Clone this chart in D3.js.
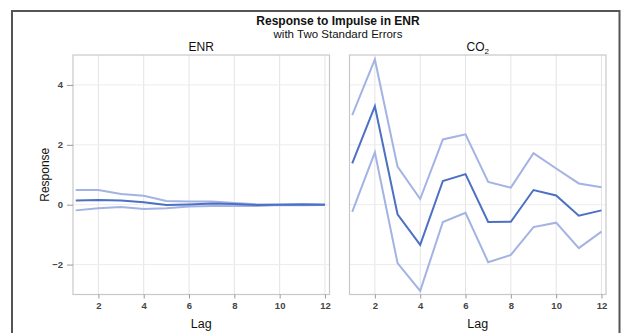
<!DOCTYPE html>
<html>
<head>
<meta charset="utf-8">
<script src="https://cdnjs.cloudflare.com/ajax/libs/d3/7.8.5/d3.min.js"></script>
<style>
  body { margin: 0; background: #fff; }
  svg { display: block; font-family: "Liberation Sans", Arial, sans-serif; }
</style>
</head>
<body>
<div id="chart"></div>
<script>
const lags = [1, 2, 3, 4, 5, 6, 7, 8, 9, 10, 11, 12];
const yTicks = [-2, 0, 2, 4];
const xTicks = [2, 4, 6, 8, 10, 12];

const enrResp  = [0.14, 0.16, 0.14, 0.08, -0.01, 0.01, 0.04, 0.02, -0.01, 0.00, 0.01, 0.00];
const enrUpper = [0.49, 0.49, 0.36, 0.30, 0.12, 0.11, 0.11, 0.06, 0.01, 0.01, 0.02, 0.01];
const enrLower = [-0.19, -0.12, -0.08, -0.14, -0.12, -0.06, -0.04, -0.04, -0.04, -0.01, -0.02, -0.01];

const co2Resp  = [1.38, 3.29, -0.32, -1.34, 0.79, 1.02, -0.58, -0.57, 0.49, 0.31, -0.37, -0.19];
const co2Upper = [2.99, 4.85, 1.27, 0.19, 2.18, 2.35, 0.76, 0.57, 1.72, 1.21, 0.71, 0.58];
const co2Lower = [-0.24, 1.75, -1.95, -2.88, -0.58, -0.27, -1.92, -1.68, -0.75, -0.60, -1.45, -0.90];

const panels = [
  { name: 'ENR', resp: enrResp, upper: enrUpper, lower: enrLower, left: 73 },
  { name: 'CO2', resp: co2Resp, upper: co2Upper, lower: co2Lower, left: 349.5 }
];

const W = 622, H = 333;
const panelW = 256.5, plotTop = 55, plotBottom = 294.5;

const svg = d3.select('#chart').append('svg')
  .attr('width', W)
  .attr('height', H);

// outer frame
svg.append('rect')
  .attr('x', 12).attr('y', 11)
  .attr('width', 607.5).attr('height', 340)
  .attr('fill', 'none')
  .attr('stroke', '#555')
  .attr('stroke-width', 2);

svg.append('text')
  .attr('x', 338).attr('y', 25)
  .attr('text-anchor', 'middle')
  .attr('font-size', 12).attr('font-weight', 'bold')
  .attr('fill', '#111')
  .text('Response to Impulse in ENR');

svg.append('text')
  .attr('x', 338).attr('y', 38)
  .attr('text-anchor', 'middle')
  .attr('font-size', 11.5)
  .attr('fill', '#111')
  .text('with Two Standard Errors');

const y = d3.scaleLinear().domain([-3, 5]).range([plotBottom, plotTop]);

svg.append('text')
  .attr('transform', `translate(49, ${(plotTop + plotBottom) / 2}) rotate(-90)`)
  .attr('text-anchor', 'middle')
  .attr('font-size', 12)
  .attr('fill', '#111')
  .text('Response');

panels.forEach((p, idx) => {
  const x = d3.scaleLinear().domain([0.88, 12.2]).range([p.left, p.left + panelW]);
  const g = svg.append('g');

  // grid
  g.selectAll('.vgrid')
    .data(xTicks)
    .enter().append('line')
    .attr('x1', d => x(d)).attr('x2', d => x(d))
    .attr('y1', plotTop).attr('y2', plotBottom)
    .attr('stroke', '#e4e4e4').attr('stroke-width', 1);

  g.selectAll('.hgrid')
    .data(yTicks)
    .enter().append('line')
    .attr('x1', p.left).attr('x2', p.left + panelW)
    .attr('y1', d => y(d)).attr('y2', d => y(d))
    .attr('stroke', '#ececec').attr('stroke-width', 1);

  // panel frame
  g.append('rect')
    .attr('x', p.left).attr('y', plotTop)
    .attr('width', panelW).attr('height', plotBottom - plotTop)
    .attr('fill', 'none')
    .attr('stroke', '#c8c8cc').attr('stroke-width', 1.2);

  // panel title
  const title = g.append('text')
    .attr('x', p.left + panelW / 2).attr('y', 51)
    .attr('text-anchor', 'middle')
    .attr('font-size', 12)
    .attr('fill', '#111');
  if (p.name === 'CO2') {
    title.append('tspan').text('CO');
    title.append('tspan').attr('font-size', 8).attr('dy', 3).text('2');
  } else {
    title.text(p.name);
  }

  // x axis
  const xAxis = g.append('g')
    .attr('transform', `translate(0, ${plotBottom})`)
    .call(d3.axisBottom(x).tickValues(xTicks).tickSize(4).tickPadding(4).tickFormat(d3.format('d')));
  xAxis.select('.domain').remove();
  xAxis.selectAll('line').attr('stroke', '#999');
  xAxis.selectAll('text')
    .attr('font-size', 9.5).attr('font-weight', 'bold')
    .attr('fill', '#444')
    .attr('font-family', '"Liberation Sans", Arial, sans-serif');

  g.append('text')
    .attr('x', p.left + panelW / 2).attr('y', 328)
    .attr('text-anchor', 'middle')
    .attr('font-size', 12.5)
    .attr('fill', '#111')
    .text('Lag');

  if (idx === 0) {
    const yAxis = g.append('g')
      .attr('transform', `translate(${p.left}, 0)`)
      .call(d3.axisLeft(y).tickValues(yTicks).tickSize(6).tickPadding(4));
    yAxis.select('.domain').remove();
    yAxis.selectAll('line').attr('stroke', '#999');
    yAxis.selectAll('text')
      .attr('font-size', 9.5).attr('font-weight', 'bold')
      .attr('fill', '#444')
      .attr('font-family', '"Liberation Sans", Arial, sans-serif');
  }

  const line = d3.line()
    .x((d, i) => x(lags[i]))
    .y(d => y(d));

  [p.upper, p.lower].forEach(s => {
    g.append('path')
      .datum(s)
      .attr('d', line)
      .attr('fill', 'none')
      .attr('stroke', '#a3b3e3')
      .attr('stroke-width', 2);
  });

  g.append('path')
    .datum(p.resp)
    .attr('d', line)
    .attr('fill', 'none')
    .attr('stroke', '#4c70c4')
    .attr('stroke-width', 2);
});
</script>
</body>
</html>
